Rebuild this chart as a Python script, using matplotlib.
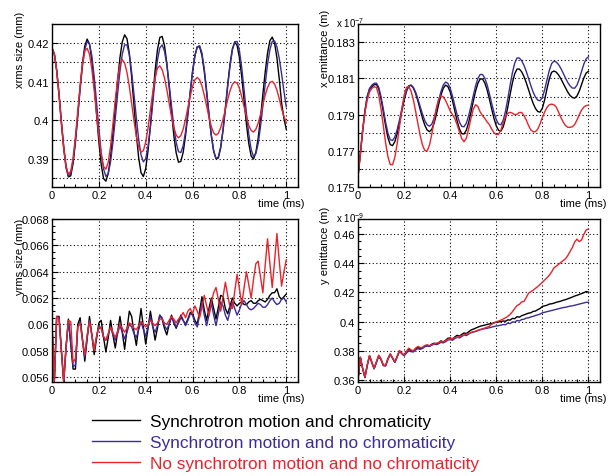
import numpy as np
import matplotlib
matplotlib.use('Agg')
import matplotlib.pyplot as plt
from matplotlib.ticker import MultipleLocator, FuncFormatter

plt.rcParams['font.family'] = ['Liberation Sans', 'DejaVu Sans']
plt.rcParams['mathtext.default'] = 'regular'

# time axis, 0.01 ms steps
time_ms = np.arange(101) / 100

# x rms size (mm)
xrms_chrom = [
    0.4187, 0.4172, 0.4130, 0.4069, 0.3998, 0.3932, 0.3881, 0.3854, 0.3857, 0.3889,
    0.3944, 0.4013, 0.4085, 0.4148, 0.4192, 0.4210, 0.4197, 0.4156, 0.4093, 0.4018,
    0.3945, 0.3886, 0.3850, 0.3843, 0.3863, 0.3906, 0.3966, 0.4035, 0.4103, 0.4162,
    0.4203, 0.4221, 0.4211, 0.4173, 0.4112, 0.4038, 0.3964, 0.3903, 0.3865, 0.3855,
    0.3876, 0.3922, 0.3986, 0.4059, 0.4128, 0.4182, 0.4214, 0.4217, 0.4194, 0.4148,
    0.4087, 0.4022, 0.3961, 0.3916, 0.3892, 0.3894, 0.3918, 0.3961, 0.4015, 0.4073,
    0.4127, 0.4168, 0.4190, 0.4190, 0.4168, 0.4126, 0.4072, 0.4014, 0.3961, 0.3921,
    0.3901, 0.3903, 0.3929, 0.3975, 0.4032, 0.4093, 0.4146, 0.4185, 0.4202, 0.4194,
    0.4162, 0.4112, 0.4051, 0.3990, 0.3940, 0.3908, 0.3900, 0.3917, 0.3954, 0.4006,
    0.4067, 0.4125, 0.4174, 0.4206, 0.4215, 0.4200, 0.4162, 0.4107, 0.4045, 0.4005, 0.3977]
xrms_nochrom = [
    0.4187, 0.4171, 0.4128, 0.4064, 0.3992, 0.3926, 0.3877, 0.3856, 0.3863, 0.3896,
    0.3948, 0.4013, 0.4080, 0.4140, 0.4183, 0.4204, 0.4198, 0.4167, 0.4113, 0.4048,
    0.3979, 0.3917, 0.3875, 0.3855, 0.3863, 0.3893, 0.3943, 0.4004, 0.4068, 0.4127,
    0.4171, 0.4195, 0.4195, 0.4170, 0.4125, 0.4067, 0.4006, 0.3951, 0.3911, 0.3893,
    0.3901, 0.3933, 0.3983, 0.4044, 0.4105, 0.4155, 0.4187, 0.4195, 0.4179, 0.4144,
    0.4094, 0.4038, 0.3985, 0.3943, 0.3919, 0.3917, 0.3935, 0.3971, 0.4020, 0.4074,
    0.4125, 0.4166, 0.4190, 0.4193, 0.4174, 0.4133, 0.4078, 0.4017, 0.3962, 0.3921,
    0.3901, 0.3906, 0.3932, 0.3975, 0.4030, 0.4088, 0.4142, 0.4182, 0.4203, 0.4204,
    0.4180, 0.4135, 0.4078, 0.4018, 0.3964, 0.3925, 0.3907, 0.3914, 0.3940, 0.3984,
    0.4037, 0.4094, 0.4145, 0.4183, 0.4204, 0.4205, 0.4190, 0.4160, 0.4120, 0.4075, 0.4035]
xrms_nosync = [
    0.4187, 0.4172, 0.4129, 0.4066, 0.3995, 0.3930, 0.3882, 0.3861, 0.3869, 0.3903,
    0.3958, 0.4024, 0.4090, 0.4145, 0.4179, 0.4186, 0.4171, 0.4133, 0.4079, 0.4018,
    0.3959, 0.3911, 0.3881, 0.3874, 0.3892, 0.3933, 0.3990, 0.4052, 0.4106, 0.4144,
    0.4157, 0.4148, 0.4124, 0.4088, 0.4044, 0.3999, 0.3959, 0.3931, 0.3918, 0.3922,
    0.3944, 0.3981, 0.4027, 0.4072, 0.4111, 0.4135, 0.4141, 0.4131, 0.4110, 0.4080,
    0.4045, 0.4010, 0.3981, 0.3962, 0.3955, 0.3961, 0.3978, 0.4003, 0.4033, 0.4063,
    0.4088, 0.4105, 0.4111, 0.4105, 0.4089, 0.4065, 0.4037, 0.4008, 0.3984, 0.3968,
    0.3962, 0.3967, 0.3981, 0.4003, 0.4028, 0.4054, 0.4077, 0.4093, 0.4100, 0.4096,
    0.4083, 0.4061, 0.4035, 0.4009, 0.3987, 0.3974, 0.3970, 0.3977, 0.3993, 0.4015,
    0.4041, 0.4065, 0.4085, 0.4098, 0.4101, 0.4094, 0.4078, 0.4056, 0.4030, 0.4010, 0.3995]

# x emittance (x 1e-7 m)
xemit_chrom = [
    0.1756, 0.1768, 0.1781, 0.1792, 0.1800, 0.1804, 0.18055, 0.18065, 0.18067, 0.18042,
    0.17987, 0.17913, 0.17836, 0.17771, 0.17734, 0.17729, 0.17751, 0.17795, 0.17853, 0.17918,
    0.17979, 0.18028, 0.18057, 0.18062, 0.18048, 0.18017, 0.17975, 0.17927, 0.17880, 0.17841,
    0.17815, 0.17806, 0.17818, 0.17852, 0.17901, 0.17957, 0.18008, 0.18046, 0.18063, 0.18055,
    0.18026, 0.17978, 0.17921, 0.17865, 0.17821, 0.17795, 0.17793, 0.17814, 0.17856, 0.17912,
    0.17973, 0.18029, 0.18073, 0.18097, 0.18097, 0.18076, 0.18038, 0.17987, 0.17932, 0.17879,
    0.17838, 0.17813, 0.17809, 0.17832, 0.17879, 0.17942, 0.18012, 0.18077, 0.18126, 0.18152,
    0.18152, 0.18137, 0.18111, 0.18077, 0.18038, 0.17998, 0.17962, 0.17934, 0.17917, 0.17914,
    0.17936, 0.17983, 0.18043, 0.18098, 0.18134, 0.18141, 0.18135, 0.18120, 0.18099, 0.18074,
    0.18049, 0.18025, 0.18006, 0.17995, 0.17991, 0.18003, 0.18030, 0.18067, 0.18103, 0.18130, 0.18140]
xemit_nochrom = [
    0.1756, 0.1768, 0.1781, 0.1792, 0.1800, 0.18045, 0.18063, 0.18073, 0.18074, 0.18051,
    0.17999, 0.17930, 0.17857, 0.17797, 0.17761, 0.17757, 0.17777, 0.17817, 0.17871, 0.17931,
    0.17988, 0.18032, 0.18059, 0.18064, 0.18051, 0.18024, 0.17987, 0.17944, 0.17902, 0.17867,
    0.17844, 0.17836, 0.17847, 0.17880, 0.17926, 0.17979, 0.18028, 0.18064, 0.18080, 0.18073,
    0.18046, 0.18002, 0.17950, 0.17899, 0.17859, 0.17835, 0.17833, 0.17853, 0.17893, 0.17946,
    0.18004, 0.18058, 0.18100, 0.18122, 0.18122, 0.18102, 0.18066, 0.18016, 0.17962, 0.17912,
    0.17872, 0.17848, 0.17844, 0.17869, 0.17919, 0.17988, 0.18063, 0.18132, 0.18185, 0.18213,
    0.18213, 0.18198, 0.18173, 0.18139, 0.18100, 0.18060, 0.18024, 0.17997, 0.17980, 0.17977,
    0.17996, 0.18038, 0.18092, 0.18144, 0.18182, 0.18196, 0.18191, 0.18177, 0.18156, 0.18130,
    0.18103, 0.18078, 0.18059, 0.18047, 0.18046, 0.18063, 0.18097, 0.18139, 0.18180, 0.18209, 0.18220]
xemit_nosync = [
    0.1756, 0.1768, 0.1781, 0.1791, 0.1798, 0.18025, 0.18045, 0.18054, 0.18050, 0.18007,
    0.17931, 0.17837, 0.17742, 0.17666, 0.17624, 0.17623, 0.17665, 0.17740, 0.17833, 0.17927,
    0.18005, 0.18050, 0.18056, 0.18031, 0.17983, 0.17919, 0.17849, 0.17783, 0.17731, 0.17701,
    0.17699, 0.17731, 0.17791, 0.17866, 0.17937, 0.17987, 0.18005, 0.17998, 0.17978, 0.17950,
    0.17920, 0.17900, 0.17878, 0.17845, 0.17806, 0.17768, 0.17750, 0.17770, 0.17820, 0.17880,
    0.17930, 0.17955, 0.17945, 0.17915, 0.17895, 0.17880, 0.17860, 0.17845, 0.17820, 0.17800,
    0.17790, 0.17792, 0.17815, 0.17855, 0.17890, 0.17908, 0.17913, 0.17908, 0.17900, 0.17902,
    0.17912, 0.17912, 0.17895, 0.17870, 0.17840, 0.17815, 0.17805, 0.17806, 0.17820, 0.17850,
    0.17885, 0.17915, 0.17940, 0.17955, 0.17958, 0.17955, 0.17942, 0.17915, 0.17885, 0.17860,
    0.17840, 0.17830, 0.17830, 0.17833, 0.17845, 0.17870, 0.17900, 0.17925, 0.17942, 0.17950, 0.17952]

# y rms size (mm)
yrms_chrom = [
    0.0600, 0.0557, 0.0606, 0.0606, 0.0581, 0.0556, 0.0583, 0.0604, 0.0585, 0.0566,
    0.0566, 0.0600, 0.0605, 0.0589, 0.0572, 0.0589, 0.0606, 0.0592, 0.0577, 0.0589,
    0.0601, 0.0603, 0.0590, 0.0579, 0.0590, 0.0603, 0.0592, 0.0582, 0.0594, 0.0606,
    0.0594, 0.0581, 0.0596, 0.0610, 0.0606, 0.0594, 0.0584, 0.0598, 0.0612, 0.0598,
    0.0585, 0.0597, 0.0610, 0.0599, 0.0588, 0.0597, 0.0607, 0.0604, 0.0597, 0.0592,
    0.0600, 0.0607, 0.0601, 0.0597, 0.0602, 0.0607, 0.0603, 0.0600, 0.0604, 0.0609,
    0.0608, 0.0603, 0.0600, 0.0610, 0.0621, 0.0611, 0.0603, 0.0612, 0.0620, 0.0612,
    0.0604, 0.0613, 0.0622, 0.0621, 0.0612, 0.0608, 0.0614, 0.0620, 0.0616, 0.0614,
    0.0616, 0.0617, 0.0615, 0.0615, 0.0617, 0.0618, 0.0616, 0.0616, 0.0618, 0.0619,
    0.0618, 0.0617, 0.0619, 0.0622, 0.0624, 0.0624, 0.0627, 0.0621, 0.0619, 0.0621, 0.0623]
yrms_nochrom = [
    0.0600, 0.0556, 0.0606, 0.0605, 0.0580, 0.0556, 0.0582, 0.0603, 0.0586, 0.0568,
    0.0569, 0.0598, 0.0602, 0.0588, 0.0575, 0.0590, 0.0603, 0.0592, 0.0581, 0.0590,
    0.0599, 0.0597, 0.0590, 0.0588, 0.0592, 0.0598, 0.0592, 0.0588, 0.0593, 0.0599,
    0.0594, 0.0589, 0.0594, 0.0600, 0.0598, 0.0593, 0.0590, 0.0596, 0.0602, 0.0596,
    0.0591, 0.0598, 0.0606, 0.0598, 0.0594, 0.0599, 0.0607, 0.0605, 0.0599, 0.0596,
    0.0600, 0.0605, 0.0602, 0.0598, 0.0601, 0.0605, 0.0603, 0.0599, 0.0603, 0.0608,
    0.0607, 0.0601, 0.0598, 0.0607, 0.0617, 0.0607, 0.0599, 0.0607, 0.0616, 0.0607,
    0.0599, 0.0608, 0.0617, 0.0614, 0.0607, 0.0603, 0.0610, 0.0617, 0.0612, 0.0607,
    0.0611, 0.0616, 0.0618, 0.0615, 0.0612, 0.0611, 0.0612, 0.0614, 0.0616, 0.0615,
    0.0613, 0.0613, 0.0615, 0.0618, 0.0620, 0.0617, 0.0615, 0.0616, 0.0619, 0.0620, 0.0617]
yrms_nosync = [
    0.0600, 0.0557, 0.0606, 0.0604, 0.0580, 0.0557, 0.0583, 0.0603, 0.0602, 0.0571,
    0.0574, 0.0598, 0.0601, 0.0588, 0.0577, 0.0592, 0.0602, 0.0592, 0.0580, 0.0591,
    0.0598, 0.0597, 0.0591, 0.0588, 0.0593, 0.0598, 0.0594, 0.0590, 0.0595, 0.0600,
    0.0597, 0.0594, 0.0597, 0.0601, 0.0600, 0.0597, 0.0596, 0.0599, 0.0602, 0.0600,
    0.0598, 0.0600, 0.0603, 0.0601, 0.0599, 0.0601, 0.0604, 0.0604, 0.0601, 0.0600,
    0.0603, 0.0606, 0.0604, 0.0601, 0.0604, 0.0606, 0.0609, 0.0605, 0.0610, 0.0612,
    0.0608, 0.0614, 0.0610, 0.0605, 0.0613, 0.0622, 0.0614, 0.0607, 0.0617, 0.0624,
    0.0628, 0.0619, 0.0610, 0.0621, 0.0632, 0.0622, 0.0613, 0.0612, 0.0625, 0.0638,
    0.0627, 0.0615, 0.0628, 0.0640, 0.0630, 0.0620, 0.0634, 0.0646, 0.0648, 0.0636,
    0.0624, 0.0645, 0.0665, 0.0646, 0.0628, 0.0648, 0.0669, 0.0648, 0.0629, 0.0640, 0.0649]

# y emittance (x 1e-9 m)
yemit_chrom = [
    0.3600, 0.3755, 0.3680, 0.3618, 0.3700, 0.3766, 0.3720, 0.3678, 0.3722, 0.3766,
    0.3740, 0.3700, 0.3698, 0.3745, 0.3777, 0.3750, 0.3722, 0.3760, 0.3800, 0.3782,
    0.3768, 0.3790, 0.3812, 0.3800, 0.3795, 0.3815, 0.3822, 0.3815, 0.3820, 0.3834,
    0.3838, 0.3832, 0.3845, 0.3852, 0.3846, 0.3855, 0.3868, 0.3860, 0.3872, 0.3886,
    0.3888, 0.3880, 0.3895, 0.3906, 0.3900, 0.3912, 0.3922, 0.3918, 0.3930, 0.3942,
    0.3948, 0.3955, 0.3962, 0.3968, 0.3972, 0.3976, 0.3980, 0.3984, 0.3986, 0.3992,
    0.3996, 0.3998, 0.4000, 0.4004, 0.4002, 0.4012, 0.4010, 0.4022, 0.4020, 0.4034,
    0.4030, 0.4040, 0.4046, 0.4052, 0.4058, 0.4060, 0.4070, 0.4072, 0.4082, 0.4090,
    0.4104, 0.4108, 0.4112, 0.4120, 0.4122, 0.4126, 0.4132, 0.4136, 0.4140, 0.4146,
    0.4150, 0.4156, 0.4162, 0.4168, 0.4175, 0.4180, 0.4186, 0.4192, 0.4198, 0.4206, 0.4202]
yemit_nochrom = [
    0.3600, 0.3752, 0.3678, 0.3615, 0.3698, 0.3764, 0.3718, 0.3676, 0.3720, 0.3764,
    0.3738, 0.3698, 0.3696, 0.3742, 0.3775, 0.3748, 0.3720, 0.3758, 0.3796, 0.3780,
    0.3766, 0.3784, 0.3800, 0.3794, 0.3792, 0.3806, 0.3814, 0.3810, 0.3816, 0.3828,
    0.3832, 0.3830, 0.3838, 0.3846, 0.3842, 0.3848, 0.3858, 0.3854, 0.3862, 0.3874,
    0.3876, 0.3872, 0.3884, 0.3894, 0.3888, 0.3898, 0.3908, 0.3904, 0.3914, 0.3924,
    0.3928, 0.3932, 0.3938, 0.3944, 0.3948, 0.3952, 0.3954, 0.3958, 0.3962, 0.3966,
    0.3970, 0.3972, 0.3976, 0.3980, 0.3978, 0.3990, 0.3986, 0.3998, 0.3996, 0.4008,
    0.4004, 0.4014, 0.4016, 0.4024, 0.4026, 0.4032, 0.4036, 0.4042, 0.4046, 0.4052,
    0.4060, 0.4064, 0.4068, 0.4072, 0.4076, 0.4080, 0.4084, 0.4088, 0.4092, 0.4096,
    0.4098, 0.4102, 0.4106, 0.4108, 0.4112, 0.4116, 0.4120, 0.4124, 0.4128, 0.4132, 0.4132]
yemit_nosync = [
    0.3600, 0.3757, 0.3682, 0.3620, 0.3702, 0.3768, 0.3722, 0.3680, 0.3725, 0.3770,
    0.3745, 0.3702, 0.3700, 0.3748, 0.3780, 0.3752, 0.3724, 0.3762, 0.3802, 0.3785,
    0.3770, 0.3795, 0.3818, 0.3806, 0.3800, 0.3818, 0.3830, 0.3822, 0.3824, 0.3836,
    0.3840, 0.3836, 0.3840, 0.3848, 0.3852, 0.3856, 0.3864, 0.3860, 0.3870, 0.3880,
    0.3882, 0.3884, 0.3892, 0.3890, 0.3898, 0.3904, 0.3906, 0.3914, 0.3918, 0.3926,
    0.3930, 0.3934, 0.3940, 0.3946, 0.3950, 0.3956, 0.3962, 0.3968, 0.3982, 0.3990,
    0.3998, 0.4004, 0.4010, 0.4018, 0.4026, 0.4036, 0.4050, 0.4068, 0.4090, 0.4110,
    0.4118, 0.4135, 0.4138, 0.4165, 0.4195, 0.4205, 0.4215, 0.4228, 0.4240, 0.4255,
    0.4270, 0.4285, 0.4300, 0.4318, 0.4340, 0.4368, 0.4380, 0.4392, 0.4405, 0.4418,
    0.4430, 0.4452, 0.4480, 0.4508, 0.4545, 0.4565, 0.4548, 0.4560, 0.4598, 0.4628, 0.4634]

legend_labels = ['Synchrotron motion and chromaticity',
                 'Synchrotron motion and no chromaticity',
                 'No synchrotron motion and no chromaticity']
colors = ['#000000', '#3d2c98', '#e8232b']

W, H = 616, 477
fig = plt.figure(figsize=(W / 100, H / 100), dpi=100)

def px_box(left, top, right, bottom):
    return [left / W, 1 - bottom / H, (right - left) / W, (bottom - top) / H]

gridstyle = dict(color='black', linestyle=(0, (1, 2.2)), linewidth=0.8)
fmt = FuncFormatter(lambda v, p: '%g' % round(v, 6))

def make_panel(box, series, ylim, ymaj, ymin, minor_grid, ylabel, ylab_xy,
               scale=None, yoffset=0.0):
    ax = fig.add_axes(px_box(*box))
    for vals, c in zip(series, colors):
        ax.plot(time_ms, vals, color=c, lw=1.0)
    ax.set_xlim(0, 1.05)
    ax.set_ylim(*ylim)
    ax.xaxis.set_major_locator(MultipleLocator(0.2))
    ax.xaxis.set_minor_locator(MultipleLocator(0.05))
    ax.yaxis.set_major_locator(MultipleLocator(ymaj, offset=yoffset))
    ax.yaxis.set_minor_locator(MultipleLocator(ymin))
    ax.xaxis.set_major_formatter(fmt)
    ax.yaxis.set_major_formatter(fmt)
    ax.tick_params(which='both', direction='in', labelsize=8, pad=2, width=0.8)
    ax.tick_params(which='major', length=4)
    ax.tick_params(which='minor', length=2)
    ax.grid(True, which='major', **gridstyle)
    if minor_grid:
        ax.yaxis.grid(True, which='minor', **gridstyle)
    for s in ax.spines.values():
        s.set_linewidth(1.0)
    fig.text(ylab_xy[0] / W, 1 - ylab_xy[1] / H, ylabel, rotation=90,
             ha='center', va='top', fontsize=8)
    r, b = box[2], box[3]
    fig.text((r + 7) / W, 1 - (b + 16) / H, 'time (ms)', ha='right', va='center', fontsize=8)
    if scale:
        fig.text((box[0] - 22) / W, 1 - (box[1] + 3) / H, scale, ha='left',
                 va='baseline', fontsize=7)
    return ax

ax_tl = make_panel((52, 25, 298, 188), [xrms_chrom, xrms_nochrom, xrms_nosync],
                   (0.3828, 0.4249), 0.01, 0.005, True, 'xrms size (mm)', (20, 12))
make_panel((358, 25, 600, 188), [xemit_chrom, xemit_nochrom, xemit_nosync],
           (0.175, 0.18401), 0.002, 0.001, True, 'x emittance (m)', (325, 10),
           scale=r'x 10$^{-7}$', yoffset=0.001)
make_panel((52, 220, 298, 383), [yrms_chrom, yrms_nochrom, yrms_nosync],
           (0.05562, 0.068), 0.002, 0.0005, False, 'yrms size (mm)', (20, 219))
make_panel((358, 220, 600, 383), [yemit_chrom, yemit_nochrom, yemit_nosync],
           (0.3586, 0.4703), 0.02, 0.005, False, 'y emittance (m)', (325, 207),
           scale=r'x 10$^{-9}$')

fig.legend(ax_tl.get_lines(), legend_labels, loc='upper left',
           bbox_to_anchor=(92 / W, 1 - 415 / H), frameon=False, fontsize=12.4,
           handlelength=2.8, handletextpad=0.58, labelspacing=0.33,
           borderpad=0, borderaxespad=0, labelcolor='linecolor')

fig.savefig('out.png', dpi=100)
